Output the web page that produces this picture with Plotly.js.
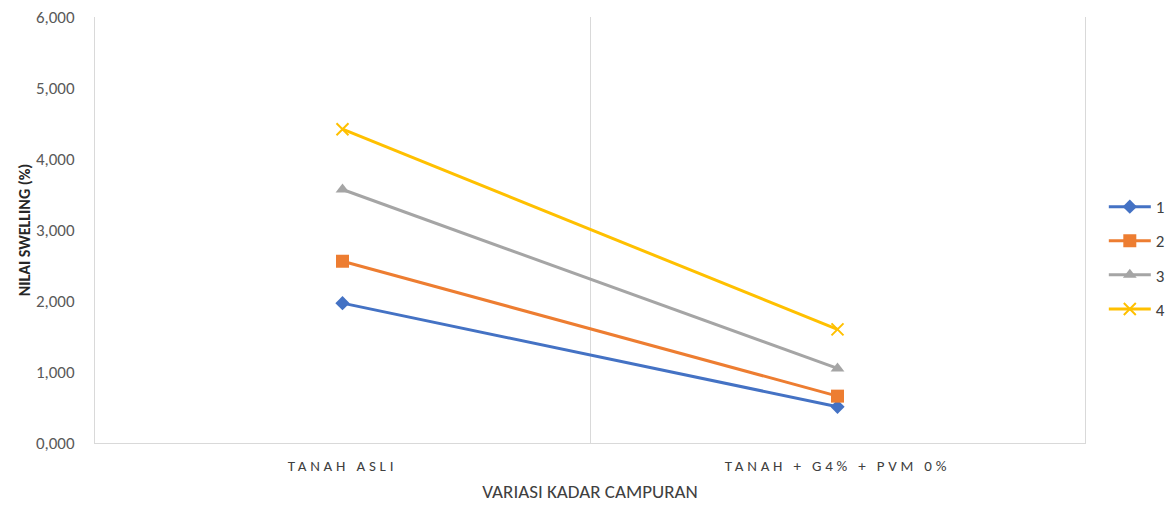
<!DOCTYPE html>
<html>
<head>
<meta charset="utf-8">
<script src="https://cdn.plot.ly/plotly-3.0.1.min.js"></script>
<style>
body{margin:0;background:#fff}
#chart{width:1172px;height:506px}
#chart .xtick text{letter-spacing:3.8px}
</style>
</head>
<body>
<div id="chart"></div>
<script>
const categories = ["TANAH ASLI", "TANAH + G4% + PVM 0%"];
const seriesNames = ["1", "2", "3", "4"];
const series1 = [1.97, 0.51];
const series2 = [2.56, 0.66];
const series3 = [3.57, 1.05];
const series4 = [4.42, 1.60];
const yTickVals = [0, 1, 2, 3, 4, 5, 6];

const allSeries = [series1, series2, series3, series4];
const colors = ["#4472C4", "#ED7D31", "#A5A5A5", "#FFC000"];
const symbols = ["diamond", "square", "triangle-up", "x-thin-open"];
const sizes = [11, 13, 12, 12];

const traces = allSeries.map((vals, i) => ({
  x: categories,
  y: vals,
  name: seriesNames[i],
  legendgroup: "g" + i,
  type: "scatter",
  mode: "lines+markers",
  line: {color: colors[i], width: 3},
  marker: {symbol: symbols[i], size: sizes[i], color: colors[i],
           line: {color: colors[i], width: i === 3 ? 2 : 0}}
}));

const layout = {
  width: 1172, height: 506,
  margin: {l: 95, r: 87, t: 17, b: 63, autoexpand: false},
  paper_bgcolor: "#fff", plot_bgcolor: "#fff",
  separators: ",.",
  font: {family: "Carlito, Calibri, 'Liberation Sans', sans-serif", color: "#595959", size: 16},
  showlegend: true,
  legend: {x: 1.019, xanchor: "left", y: 0.434, yanchor: "middle",
           traceorder: "grouped", tracegroupgap: 9, itemwidth: 42,
           font: {size: 17, color: "#404040"}},
  xaxis: {
    type: "category", range: [-0.5, 1.5],
    tickson: "boundaries", ticks: "", showgrid: true, gridcolor: "#D9D9D9", gridwidth: 1,
    showline: true, linecolor: "#D9D9D9", linewidth: 1,
    tickfont: {size: 15, color: "#404040"}, ticklabelstandoff: 9,
    title: {text: "VARIASI KADAR CAMPURAN", font: {size: 19, color: "#404040"}, standoff: 10},
    zeroline: false, fixedrange: true
  },
  yaxis: {
    range: [0, 6], tickvals: yTickVals, tickformat: ",.3f",
    showgrid: false, zeroline: false, showline: true, mirror: true, linecolor: "#D9D9D9", linewidth: 1, ticks: "",
    tickfont: {size: 17, color: "#595959"}, ticklabelstandoff: 16,
    title: {text: "<b>NILAI SWELLING (%)</b>", font: {size: 16, color: "#262626"}, standoff: 1},
    fixedrange: true
  }
};

Plotly.newPlot("chart", traces, layout, {displayModeBar: false, staticPlot: true});
</script>
</body>
</html>
